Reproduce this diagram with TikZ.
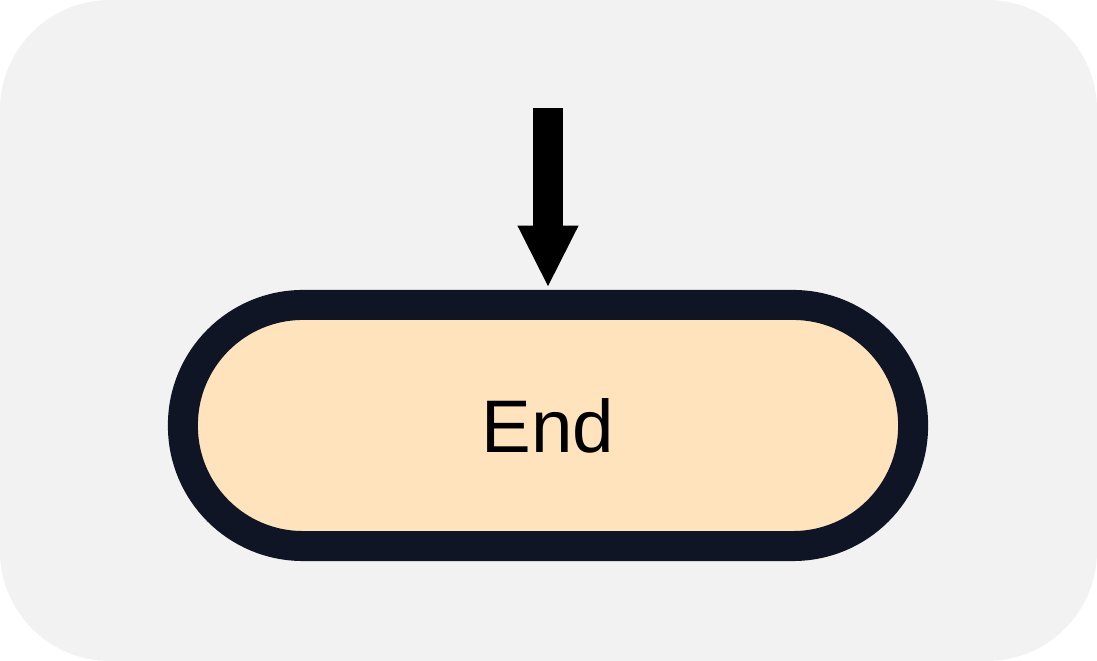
\documentclass[tikz,border=0pt]{standalone}
\usepackage{fontspec}
\setmainfont{Liberation Sans}
\usetikzlibrary{arrows.meta}
\definecolor{panel}{HTML}{F2F2F2}
\definecolor{peach}{HTML}{FEE3BD}
\definecolor{navy}{HTML}{0F1524}
\begin{document}
\begin{tikzpicture}[x=0.025cm,y=0.025cm,
  terminal/.style={draw=navy, fill=peach, line width=0.75cm, rectangle,
    rounded corners=3cm, minimum width=18.25cm, minimum height=6.025cm,
    outer sep=0pt, inner sep=0pt, font=\fontsize{53}{60}\selectfont},
  flow/.style={line width=0.75cm, -{Triangle[length=1.55cm,width=1.4cm]}}]
\path[fill=panel, rounded corners=2.75cm] (0,0) rectangle (1097,661);
\useasboundingbox (0,0) rectangle (1097,661);
\node[terminal] (end) at (548,235.5) {End};
\coordinate (in) at (548,553);
\path[draw,flow,shorten >=0.43cm] (in) -- (end.north);
\end{tikzpicture}
\end{document}
